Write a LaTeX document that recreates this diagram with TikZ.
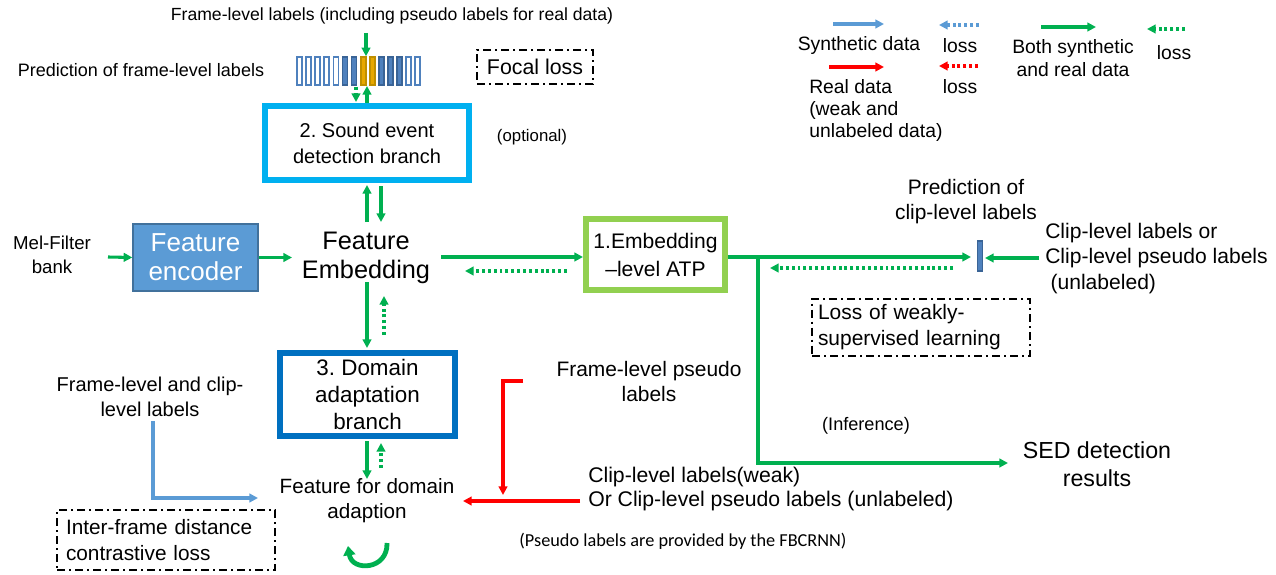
\documentclass[tikz,border=0pt]{standalone}
\usepackage{fontspec}
\setmainfont{Liberation Sans}
\newfontfamily\calib{Carlito}
\usetikzlibrary{arrows.meta,calc}
\definecolor{grn}{HTML}{00B050}
\definecolor{sedc}{HTML}{00B0F0}
\definecolor{dac}{HTML}{0070C0}
\definecolor{atpc}{HTML}{92D050}
\definecolor{encf}{HTML}{5B9BD5}
\definecolor{encd}{HTML}{41719C}
\definecolor{lblue}{HTML}{5B9BD5}
\definecolor{redc}{HTML}{FF0000}
\definecolor{barb}{HTML}{4F81BD}
\definecolor{barbd}{HTML}{3A6496}
\definecolor{orng}{HTML}{E8A800}
\definecolor{orngd}{HTML}{BF8F00}
\frenchspacing
\begin{document}
\begin{tikzpicture}[x=0.75pt,y=-0.75pt,
  txt/.style={inner sep=0pt, align=center, text=black},
  fsz/.style 2 args={font=\fontsize{#1}{#2}\selectfont},
  tip/.style={-{Triangle[length=6.5pt,width=6.5pt]}},
  g/.style={draw=grn, line width=2.3pt, tip},
  gd/.style={g, dash pattern=on 2.2pt off 2.2pt},
  bl/.style={draw=lblue, line width=2.3pt, tip},
  bld/.style={bl, dash pattern=on 2.2pt off 2.2pt},
  rd/.style={draw=redc, line width=2.3pt, tip},
  rdd/.style={rd, dash pattern=on 2.2pt off 2.2pt},
  dashdot/.style={draw=black, line width=1.5pt, dash pattern=on 6pt off 3pt on 1.5pt off 3pt, inner sep=0pt},
  branchbox/.style={draw, line width=4.5pt, fill=white, inner sep=0pt, align=center}
]
\useasboundingbox (0,0) rectangle (1276,574);

% lanes
\coordinate (laneA) at (367,0);
\coordinate (laneB) at (381,0);
\coordinate (laneC) at (384,0);
\coordinate (laneT) at (366,0);
\coordinate (laneD) at (356,0);

% ---------- top area ----------
\node[txt, fsz={13.2}{16}] (toplbl) at (392,16) {Frame-level labels (including pseudo labels for real data)};
\node[txt, fsz={13.5}{16}] (predframe) at (141,70) {Prediction of frame-level labels};

\foreach \i/\f/\d in {0/white/barb,1/white/barb,2/white/barb,3/white/barb,4/white/barb,5/barb/barbd,6/barb/barbd,7/orng/orngd,8/orng/orngd,9/barb/barbd,10/barb/barbd,11/barb/barbd,12/white/barb,13/white/barb}
  \draw[fill=\f, draw=\d, line width=1.3pt] ({297+9.1*\i},57) rectangle ({302+9.1*\i},85);
\node[inner sep=0pt, minimum width=93pt, minimum height=21.75pt] (bars) at (358.5,71) {};

\node[dashdot, minimum width=87pt, minimum height=25.5pt, fsz={16}{19}] (focal) at (535,67) {Focal loss};

\node[branchbox, draw=sedc, minimum width=153pt, minimum height=55.5pt, fsz={15}{19.5}] (sed) at (367,143) {2. Sound event\\detection branch};
\node[txt, fsz={12.6}{15}] (optional) at (532,137) {(optional)};

% ---------- middle row ----------
\node[txt, fsz={14}{18}] (mel) at (52,255) {Mel-Filter\\bank};
\node[draw=encd, line width=1pt, fill=encf, text=white, inner sep=0pt, align=center, minimum width=93.75pt, minimum height=50.25pt, fsz={19.5}{21.75}] (enc) at (195.5,257.5) {Feature\\encoder};
\node[txt, fsz={19}{21.75}] (fe) at (366,257.5) {Feature\\Embedding};
\node[branchbox, draw=atpc, minimum width=104.25pt, minimum height=53.25pt, fsz={15.8}{21}] (atp) at (655.5,254.5) {1.Embedding\\–level ATP};

\node[txt, fsz={15.7}{18.75}] (predclip) at (966,201.5) {Prediction of\\clip-level labels};
\node[draw=barbd, fill=barb, line width=1pt, inner sep=0pt, minimum width=3.75pt, minimum height=22.5pt] (clipbar) at (980,256) {};
\node[txt, align=left, anchor=west, fsz={15.8}{19}] (cliplbl) at (1045,258.5) {Clip-level labels or\\Clip-level pseudo labels\\\hspace{4pt}(unlabeled)};
\node[dashdot, align=left, inner xsep=4.5pt, text width=154.5pt, minimum height=42.75pt, fsz={15.7}{19.5}] (weakloss) at (921,327) {Loss of weakly-\\supervised learning};

% ---------- lower area ----------
\node[branchbox, draw=dac, minimum width=131.25pt, minimum height=62.5pt, fsz={16.8}{20}] (da) at (367.5,394.5) {3. Domain\\adaptation\\branch};
\node[txt, fsz={15}{18.75}] (fclbl) at (150,397) {Frame-level and clip-\\level labels};
\node[txt, fsz={15.5}{18.75}] (fdl) at (367,500.5) {Feature for domain\\adaption};
\node[dashdot, align=left, inner xsep=6.75pt, text width=150pt, minimum height=45pt, fsz={15.6}{19.5}] (inter) at (166,540) {Inter-frame distance\\contrastive loss};
\node[txt, fsz={15.7}{18.75}] (fpl) at (649,381.5) {Frame-level pseudo\\labels};
\node[txt, align=left, anchor=west, fsz={15.9}{18.5}] (clw) at (588,489) {Clip-level labels(weak)\\Or Clip-level pseudo labels (unlabeled)};
\node[txt, font=\calib\fontsize{13.7}{16}\selectfont] (fbcrnn) at (683,541) {(Pseudo labels are provided by the FBCRNN)};
\node[txt, fsz={13.6}{16}] (infer) at (866,426) {(Inference)};
\node[txt, fsz={17.4}{21}] (sedres) at (1097,464) {SED detection\\results};

% ---------- legend ----------
\node[txt, fsz={14.5}{17}] (lsyn) at (859,46) {Synthetic data};
\node[txt, fsz={14.5}{17}] (lloss1) at (960,46) {loss};
\node[txt, fsz={14.5}{17}] (lloss2) at (960,87) {loss};
\node[txt, align=left, anchor=north west, fsz={14.5}{16.5}] (lreal) at (809,79) {Real data\\(weak and\\unlabeled data)};
\node[txt, fsz={14.5}{17.25}] (lboth) at (1073,58.5) {Both synthetic\\and real data};
\node[txt, fsz={14.5}{17}] (lloss3) at (1174,53) {loss};
\coordinate (lb1) at (833,24);  \coordinate (lb2) at (884,24);
\coordinate (lbd1) at (979,25); \coordinate (lbd2) at (939,25);
\coordinate (lr1) at (829,67);  \coordinate (lr2) at (884,67);
\coordinate (lrd1) at (978,66); \coordinate (lrd2) at (939,66);
\coordinate (lg1) at (1041,27); \coordinate (lg2) at (1096,27);
\coordinate (lgd1) at (1185,29);\coordinate (lgd2) at (1147,29);
\draw[bl] (lb1) -- (lb2);
\draw[bld] (lbd1) -- (lbd2);
\draw[rd] (lr1) -- (lr2);
\draw[rdd] (lrd1) -- (lrd2);
\draw[g] (lg1) -- (lg2);
\draw[gd] (lgd1) -- (lgd2);

% ---------- connectors ----------
% top label -> bars
\draw[g] (laneT |- 0,33) -- (laneT |- bars.north);
% sed <-> bars
\draw[g] (laneA |- 0,103) -- (laneA |- 0,86);
\draw[gd] (laneD |- 0,87) -- (laneD |- 0,102);
% fe <-> sed
\draw[g] (laneA |- 0,222) -- (laneA |- 0,185);
\draw[g] (laneB |- 0,186) -- (laneB |- 0,222);
% mel -> enc -> fe
\draw[g] (108,257) -- (enc.west);
\draw[g] (enc.east) -- (292,257.5);
% fe <-> atp
\draw[g] (441,257) -- (583,257);
\draw[gd] (567,271) -- (465,271);
% atp -> clip bar, branch to SED results
\draw[g] (728,257) -- (971,257);
\coordinate (jn) at (758,257);
\draw[g] (jn) |- (1008,463);
\draw[gd] (953,268) -- (770,268);
\draw[g] (1039,258) -- (985,258);
% fe <-> da
\draw[g] (laneA |- 0,282) -- (laneA |- 0,348);
\draw[gd] (laneC |- 0,335) -- (laneC |- 0,296);
% da <-> fdl
\draw[g] (laneA |- 0,441) -- (laneA |- 0,479);
\draw[gd] (laneB |- 0,468) -- (laneB |- 0,443);
% frame & clip labels -> fdl
\coordinate (fcB) at (153,498);
\draw[bl] (fcB |- 0,421) |- (258,498);
% red
\coordinate (rtop) at (523,381);
\coordinate (rcor) at (503,381);
\draw[rd] (rtop) -- (rcor) -- (rcor |- 0,495);
\draw[rd] (580,501) -- (463,501);
% curved self arrow
\coordinate (cvR) at (387,543);
\coordinate (cvL) at (348,546);
\draw[draw=grn, line width=3.6pt, -{Triangle[length=7pt,width=9pt]}] (cvR) .. controls (388,570) and (352,572) .. (cvL);
\end{tikzpicture}
\end{document}
